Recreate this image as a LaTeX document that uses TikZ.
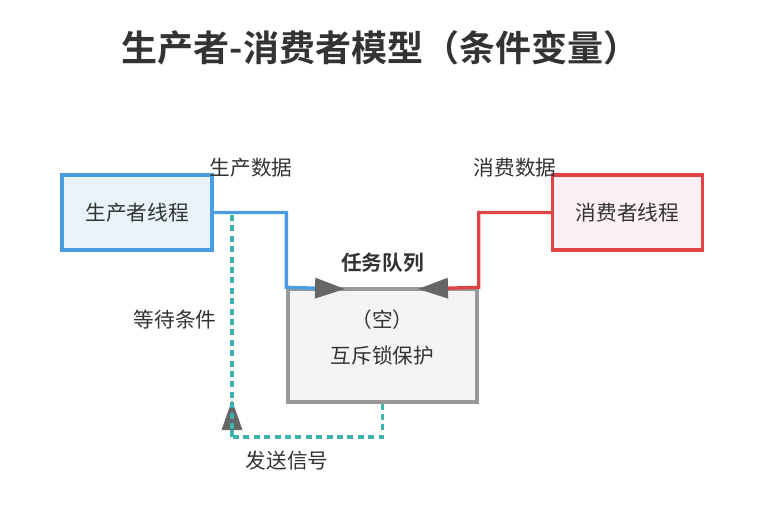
\documentclass[tikz,border=0pt]{standalone}
\usepackage{fontspec}
\setmainfont{Noto Sans CJK SC}[BoldFont={Noto Sans CJK SC Bold}]
\usetikzlibrary{arrows.meta}
\definecolor{txt}{HTML}{333333}
\definecolor{pblue}{HTML}{4A9DE0}
\definecolor{pfill}{HTML}{E8F4FA}
\definecolor{cred}{HTML}{E04446}
\definecolor{cfill}{HTML}{FDF0F5}
\definecolor{qgray}{HTML}{999999}
\definecolor{qfill}{HTML}{F4F4F4}
\definecolor{teal2}{HTML}{3DB3B0}
\definecolor{agray}{HTML}{666666}
\tikzset{
  lbl/.style={text=txt, font=\fontsize{15.5}{18}\selectfont, inner sep=0pt},
  thread/.style={line width=2.5pt, minimum width=112.5pt, minimum height=56.25pt, inner sep=0pt, text=txt, font=\fontsize{15.5}{18}\selectfont},
  tip/.style={-{Triangle[length=22.5pt,width=15pt,color=agray]}},
  sig/.style={teal2, line width=2.5pt, dash pattern=on 4.5pt off 3.3pt},
}
\begin{document}
\begin{tikzpicture}[x=0.75pt,y=-0.75pt]
\useasboundingbox (0,0) rectangle (778,513);
\node[text=txt, font=\fontsize{27}{32}\selectfont\bfseries, inner sep=0pt] (title) at (380.5,48) {生产者-消费者模型（条件变量）};
\node[thread, draw=pblue, fill=pfill] (prod) at (137,212.5) {生产者线程};
\node[thread, draw=cred, fill=cfill] (cons) at (627.5,212.5) {消费者线程};
\node[draw=qgray, fill=qfill, line width=2.5pt, minimum width=141.75pt, minimum height=84.75pt, inner sep=0pt] (queue) at (382.5,345.5) {};
\node[lbl] (empty) at (382.5,320) {（空）};
\node[lbl] (mutex) at (382.5,356) {互斥锁保护};
\node[lbl, font=\fontsize{15.5}{18}\selectfont\bfseries] (qname) at (382.5,263) {任务队列};
\node[lbl] (plbl) at (251,168) {生产数据};
\node[lbl] (clbl) at (515,168) {消费数据};
\node[lbl] (wlbl) at (175,320) {等待条件};
\node[lbl] (slbl) at (287,461) {发送信号};
\coordinate (qin) at (345,289);
\coordinate (qout) at (418,289);
\coordinate (wtop) at (232,215);
\coordinate (wbot) at (232,437);
\coordinate (wtip) at (232,400);
\draw[pblue, line width=2.5pt, tip] (prod.east) -| (queue.north west) -- (qin);
\draw[cred, line width=2.5pt, tip] (cons.west) -| (queue.north east) -- (qout);
\draw[sig, tip] (queue.south) |- (wbot) -- (wtip);
\draw[sig] (wtop) -- (wbot);
\end{tikzpicture}
\end{document}
